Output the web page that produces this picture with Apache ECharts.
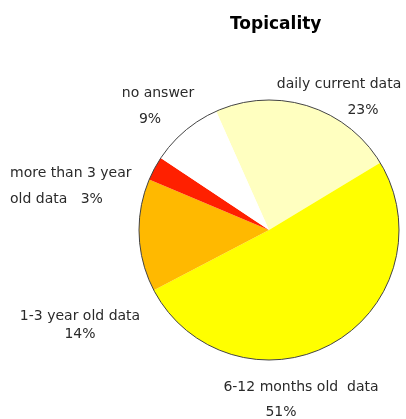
<!DOCTYPE html>
<html>
<head>
<meta charset="utf-8">
<script src="https://cdn.jsdelivr.net/npm/echarts@6/dist/echarts.min.js"></script>
<style>
  html, body { margin: 0; padding: 0; background: #fff; }
  #main { width: 406px; height: 419px; }
</style>
</head>
<body>
<div id="main"></div>
<script>
// slice data, clockwise from the top-left edge
const categories = ['daily current data', '6-12 months old  data', '1-3 year old data', 'more than 3 year old data', 'no answer']
const values = [23, 51, 14, 3, 9]
const colors = ['#ffffc0', '#ffff00', '#ffb900', '#ff2000', '#ffffff']

// label anchor spots (x, y of the top of the text block) and alignment
const labelSpots = [
  { x: 339, y: 71, align: 'center' },
  { x: 301, y: 374, align: 'center' },
  { x: 80, y: 307, align: 'center' },
  { x: 10, y: 160, align: 'left' },
  { x: 158, y: 80, align: 'center' }
]

const myChart = echarts.init(document.getElementById('main'))

const labelText = (i) => {
  const name = categories[i]
  const pct = values[i] + '%'
  if (i === 0) return '{n|' + name + '}\n{p0|' + pct + '}'
  if (i === 1) return '{n|' + name + '}\n{p1|' + pct + '}'
  if (i === 2) return '{s|' + name + '}\n{s|' + pct + '}'
  if (i === 3) return '{n|more than 3 year}\n{n|old data   ' + pct + '}'
  return '{n|' + name + '}\n{p4|' + pct + '}'
}

const txt = { fontFamily: 'DejaVu Sans, sans-serif', fontSize: 14, color: '#2a2a2a' }

myChart.setOption({
  animation: false,
  backgroundColor: '#fff',
  title: {
    text: 'Topicality',
    left: 225,
    top: 11,
    textStyle: { fontFamily: 'DejaVu Sans, sans-serif', fontWeight: 'bold', fontSize: 17, color: '#000' }
  },
  series: [
    {
      type: 'pie',
      center: [269, 230],
      radius: 130,
      startAngle: 114,
      clockwise: true,
      silent: true,
      avoidLabelOverlap: false,
      itemStyle: { borderWidth: 0 },
      labelLine: { show: false },
      label: {
        show: true,
        position: 'outside',
        formatter: (p) => labelText(p.dataIndex),
        rich: {
          n: Object.assign({ lineHeight: 26 }, txt),
          s: Object.assign({ lineHeight: 18 }, txt),
          p0: Object.assign({ lineHeight: 26, padding: [0, 0, 0, 48] }, txt),
          p1: Object.assign({ lineHeight: 24, padding: [0, 40, 0, 0] }, txt),
          p4: Object.assign({ lineHeight: 26, padding: [0, 16, 0, 0] }, txt)
        }
      },
      labelLayout: (params) => {
        const s = labelSpots[params.dataIndex]
        return { x: s.x, y: s.y, align: s.align, verticalAlign: 'top' }
      },
      data: categories.map((c, i) => ({
        name: c,
        value: values[i],
        itemStyle: { color: colors[i] }
      }))
    },
    {
      // thin outline round the whole pie
      type: 'pie',
      center: [269, 230],
      radius: 130,
      silent: true,
      z: 3,
      label: { show: false },
      labelLine: { show: false },
      itemStyle: { color: 'rgba(0,0,0,0)', borderColor: '#444', borderWidth: 1 },
      data: [{ value: 1, name: '' }]
    }
  ]
})
</script>
</body>
</html>
